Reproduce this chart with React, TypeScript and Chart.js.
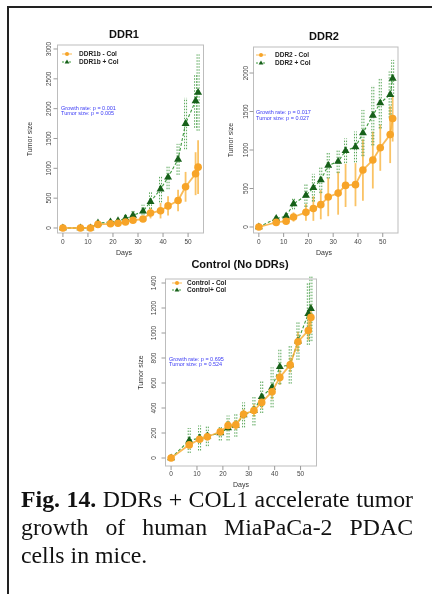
import React, { useEffect, useRef } from "react";
import { Chart, registerables } from "chart.js";

Chart.register(...registerables);

// ---------- data ----------
const DAYS = [0, 7, 11, 14, 19, 22, 25, 28, 32, 35, 39, 42, 46, 49, 53, 54];
const X_TICKS = [0, 10, 20, 30, 40, 50];

const DDR1_MINUS = [0, 0, 0, 60, 70, 80, 100, 130, 150, 250, 290, 370, 460, 690, 910, 1020];
const DDR1_MINUS_ERR = [5, 5, 5, 20, 25, 30, 35, 40, 50, 90, 130, 160, 180, 250, 360, 450];
const DDR1_PLUS = [0, 0, 0, 80, 100, 120, 160, 210, 280, 440, 650, 850, 1150, 1750, 2130, 2270];
const DDR1_PLUS_ERR = [5, 5, 5, 30, 35, 40, 60, 100, 110, 170, 220, 200, 260, 430, 450, 640];
const DDR1_Y_TICKS = [0, 500, 1000, 1500, 2000, 2500, 3000];

const DDR2_MINUS = [0, 60, 75, 130, 190, 240, 290, 390, 440, 540, 550, 740, 870, 1030, 1200, 1410];
const DDR2_MINUS_ERR = [10, 20, 25, 60, 110, 160, 190, 250, 280, 280, 280, 400, 370, 300, 370, 300];
const DDR2_PLUS = [0, 110, 140, 300, 410, 510, 610, 800, 850, 990, 1040, 1220, 1450, 1610, 1720, 1930];
const DDR2_PLUS_ERR = [10, 30, 40, 70, 150, 180, 170, 170, 150, 160, 200, 300, 390, 330, 300, 240];
const DDR2_Y_TICKS = [0, 500, 1000, 1500, 2000];

const CTRL_MINUS = [0, 105, 150, 170, 210, 260, 265, 350, 380, 445, 530, 645, 745, 930, 1020, 1125];
const CTRL_MINUS_ERR = [5, 20, 30, 30, 30, 40, 40, 40, 50, 50, 60, 60, 60, 80, 80, 100];
const CTRL_PLUS = [0, 140, 160, 175, 200, 240, 260, 345, 380, 490, 565, 730, 745, 935, 1155, 1195];
const CTRL_PLUS_ERR = [5, 100, 100, 80, 60, 100, 90, 100, 120, 130, 160, 140, 150, 150, 250, 260];
const CTRL_Y_TICKS = [0, 200, 400, 600, 800, 1000, 1200, 1400];

const DDR1_LABELS = ["DDR1b - Col", "DDR1b + Col"];
const DDR2_LABELS = ["DDR2 - Col", "DDR2 + Col"];
const CTRL_LABELS = ["Control - Col", "Control+ Col"];

const DDR1_P = ["Growth rate: p = 0.001", "Tumor size: p = 0.005"];
const DDR2_P = ["Growth rate: p = 0.017", "Tumor size: p = 0.027"];
const CTRL_P = ["Growth rate: p = 0.695", "Tumor size: p = 0.524"];

// ---------- styles ----------
const W = 432;
const H = 594;
const SANS = '"Liberation Sans", Arial, sans-serif';
const ORANGE = "#f7a428";
const ORANGE_LINE = "rgba(248,170,45,0.8)";
const GREEN = "#17601a";
const GREEN_LINE = "#3f9a3f";

interface Panel {
  title: string;
  titleX: number;
  titleY: number;
  area: { l: number; r: number; t: number; b: number };
  yMin: number;
  yMax: number;
  yTicks: number[];
  yTickX: number;
  yLabelX: number;
  xTickY: number;
  xLabelX: number;
  xLabelY: number;
  minus: number[];
  minusErr: number[];
  plus: number[];
  plusErr: number[];
  labels: string[];
  legend: { x1: number; x2: number; tx: number; y: number[] };
  pvals: string[];
  pX: number;
  pY: number[];
}

const PANELS: Panel[] = [
  {
    title: "DDR1", titleX: 124, titleY: 35,
    area: { l: 57.5, r: 203.5, t: 45, b: 233 },
    yMin: -84, yMax: 3067, yTicks: DDR1_Y_TICKS, yTickX: 49, yLabelX: 30,
    xTickY: 242, xLabelX: 124, xLabelY: 253,
    minus: DDR1_MINUS, minusErr: DDR1_MINUS_ERR, plus: DDR1_PLUS, plusErr: DDR1_PLUS_ERR,
    labels: DDR1_LABELS, legend: { x1: 62, x2: 72, tx: 79, y: [54, 62] },
    pvals: DDR1_P, pX: 61, pY: [108, 113.5],
  },
  {
    title: "DDR2", titleX: 324, titleY: 37,
    area: { l: 253.5, r: 398, t: 47, b: 233 },
    yMin: -78, yMax: 2338, yTicks: DDR2_Y_TICKS, yTickX: 246, yLabelX: 231,
    xTickY: 242, xLabelX: 324, xLabelY: 253,
    minus: DDR2_MINUS, minusErr: DDR2_MINUS_ERR, plus: DDR2_PLUS, plusErr: DDR2_PLUS_ERR,
    labels: DDR2_LABELS, legend: { x1: 256, x2: 266, tx: 275, y: [55, 63] },
    pvals: DDR2_P, pX: 256, pY: [112, 118],
  },
  {
    title: "Control (No DDRs)", titleX: 240, titleY: 265,
    area: { l: 165.5, r: 316.5, t: 279, b: 466 },
    yMin: -64, yMax: 1432, yTicks: CTRL_Y_TICKS, yTickX: 154, yLabelX: 141,
    xTickY: 474, xLabelX: 241, xLabelY: 485,
    minus: CTRL_MINUS, minusErr: CTRL_MINUS_ERR, plus: CTRL_PLUS, plusErr: CTRL_PLUS_ERR,
    labels: CTRL_LABELS, legend: { x1: 172, x2: 182, tx: 187, y: [283, 290] },
    pvals: CTRL_P, pX: 169, pY: [359, 364.5],
  },
];

function line(ctx: CanvasRenderingContext2D, x1: number, y1: number, x2: number, y2: number) {
  ctx.beginPath();
  ctx.moveTo(x1, y1);
  ctx.lineTo(x2, y2);
  ctx.stroke();
}

function triangle(ctx: CanvasRenderingContext2D, x: number, y: number, r: number) {
  ctx.beginPath();
  ctx.moveTo(x, y - r);
  ctx.lineTo(x + r * 0.95, y + r * 0.6);
  ctx.lineTo(x - r * 0.95, y + r * 0.6);
  ctx.closePath();
  ctx.fill();
}

function makePlugin(p: Panel) {
  return {
    id: "panelDecor",
    beforeDatasetsDraw(chart: any) {
      const ctx: CanvasRenderingContext2D = chart.ctx;
      const xs = chart.scales.x;
      const ys = chart.scales.y;
      ctx.save();
      // orange (solid) error bars
      ctx.strokeStyle = "rgba(248,175,50,0.75)";
      ctx.lineWidth = 1.8;
      ctx.setLineDash([]);
      DAYS.forEach((d, i) => {
        const x = xs.getPixelForValue(d);
        line(ctx, x, ys.getPixelForValue(p.minus[i] - p.minusErr[i]), x, ys.getPixelForValue(p.minus[i] + p.minusErr[i]));
      });
      // green (dotted) error bars
      ctx.strokeStyle = "rgba(60,150,60,0.85)";
      ctx.lineWidth = 1;
      ctx.setLineDash([1.5, 1.5]);
      DAYS.forEach((d, i) => {
        const x = xs.getPixelForValue(d);
        const y1 = ys.getPixelForValue(p.plus[i] - p.plusErr[i]);
        const y2 = ys.getPixelForValue(p.plus[i] + p.plusErr[i]);
        line(ctx, x - 1, y1, x - 1, y2);
        line(ctx, x + 1, y1, x + 1, y2);
      });
      ctx.restore();
    },
    afterDraw(chart: any) {
      const ctx: CanvasRenderingContext2D = chart.ctx;
      const xs = chart.scales.x;
      const ys = chart.scales.y;
      const { left, right, top, bottom } = chart.chartArea;
      ctx.save();
      ctx.setLineDash([]);
      // plot box
      ctx.strokeStyle = "#bdbdbd";
      ctx.lineWidth = 1;
      ctx.strokeRect(left, top, right - left, bottom - top);
      // ticks
      ctx.strokeStyle = "#9a9a9a";
      X_TICKS.forEach((v) => {
        const x = xs.getPixelForValue(v);
        line(ctx, x, bottom, x, bottom + 4);
      });
      p.yTicks.forEach((v) => {
        const y = ys.getPixelForValue(v);
        line(ctx, left - 4, y, left, y);
      });
      // tick labels
      ctx.fillStyle = "#444";
      ctx.font = `6.5px ${SANS}`;
      ctx.textAlign = "center";
      ctx.textBaseline = "middle";
      X_TICKS.forEach((v) => ctx.fillText(String(v), xs.getPixelForValue(v), p.xTickY));
      p.yTicks.forEach((v) => {
        ctx.save();
        ctx.translate(p.yTickX, ys.getPixelForValue(v));
        ctx.rotate(-Math.PI / 2);
        ctx.fillText(String(v), 0, 0);
        ctx.restore();
      });
      // axis titles
      ctx.fillStyle = "#333";
      ctx.font = `7px ${SANS}`;
      ctx.fillText("Days", p.xLabelX, p.xLabelY);
      ctx.save();
      ctx.translate(p.yLabelX, (top + bottom) / 2);
      ctx.rotate(-Math.PI / 2);
      ctx.fillText("Tumor size", 0, 0);
      ctx.restore();
      // main title
      ctx.fillStyle = "#111";
      ctx.font = `bold 11px ${SANS}`;
      ctx.fillText(p.title, p.titleX, p.titleY);
      // legend
      const lg = p.legend;
      [0, 1].forEach((i) => {
        const y = lg.y[i];
        const mx = (lg.x1 + lg.x2) / 2;
        ctx.lineWidth = 1;
        if (i === 0) {
          ctx.strokeStyle = ORANGE_LINE;
          ctx.setLineDash([]);
          line(ctx, lg.x1, y, lg.x2, y);
          ctx.fillStyle = ORANGE;
          ctx.beginPath();
          ctx.arc(mx, y, 2, 0, Math.PI * 2);
          ctx.fill();
        } else {
          ctx.strokeStyle = GREEN_LINE;
          ctx.setLineDash([2, 1.5]);
          line(ctx, lg.x1, y, lg.x2, y);
          ctx.setLineDash([]);
          ctx.fillStyle = GREEN;
          triangle(ctx, mx, y, 2.5);
        }
        ctx.fillStyle = "#222";
        ctx.font = `bold 6.5px ${SANS}`;
        ctx.textAlign = "left";
        ctx.fillText(p.labels[i], lg.tx, y);
      });
      // p values
      ctx.fillStyle = "#3b3bf5";
      ctx.font = `5.5px ${SANS}`;
      ctx.textAlign = "left";
      p.pvals.forEach((t, i) => ctx.fillText(t, p.pX, p.pY[i]));
      ctx.restore();
    },
  };
}

function build(canvas: HTMLCanvasElement, p: Panel) {
  const datasets: any[] = [
    {
      label: p.labels[0],
      data: DAYS.map((d, i) => ({ x: d, y: p.minus[i] })),
      borderColor: ORANGE_LINE,
      borderWidth: 1.8,
      pointStyle: "circle",
      pointRadius: 3.8,
      pointBackgroundColor: ORANGE,
      pointBorderColor: ORANGE,
      pointBorderWidth: 0,
      tension: 0,
      fill: false,
    },
    {
      label: p.labels[1],
      data: DAYS.map((d, i) => ({ x: d, y: p.plus[i] })),
      borderColor: GREEN_LINE,
      borderWidth: 1.1,
      borderDash: [3, 2],
      pointStyle: "triangle",
      pointRadius: 4.6,
      pointBackgroundColor: GREEN,
      pointBorderColor: GREEN,
      pointBorderWidth: 0,
      tension: 0,
      fill: false,
    },
  ];
  return new Chart(canvas, {
    type: "line",
    data: { datasets },
    options: {
      responsive: false,
      animation: false,
      events: [],
      layout: {
        padding: { left: p.area.l, top: p.area.t, right: W - p.area.r, bottom: H - p.area.b },
      },
      scales: {
        x: { type: "linear", display: false, min: -2.16, max: 56.16 },
        y: { type: "linear", display: false, min: p.yMin, max: p.yMax },
      },
      plugins: {
        legend: { display: false },
        tooltip: { enabled: false },
        title: { display: false },
      },
    },
    plugins: [makePlugin(p)],
  } as any);
}

function PanelCanvas({ panel }: { panel: Panel }) {
  const ref = useRef<HTMLCanvasElement | null>(null);
  useEffect(() => {
    if (!ref.current) return;
    const chart = build(ref.current, panel);
    return () => chart.destroy();
  }, [panel]);
  return (
    <canvas
      ref={ref}
      width={W}
      height={H}
      style={{ position: "absolute", left: 0, top: 0, width: W, height: H }}
    />
  );
}

export default function App() {
  const captionLine: React.CSSProperties = {
    textAlign: "justify",
    textAlignLast: "justify" as any,
    height: 28,
  };
  return (
    <div style={{ position: "absolute", left: 0, top: 0, width: W, height: H, overflow: "hidden", background: "#fff" }}>
      <div
        style={{
          position: "absolute",
          left: 7,
          top: 6,
          width: W - 7,
          height: H - 6,
          boxSizing: "border-box",
          borderTop: "2px solid #222",
          borderLeft: "2px solid #222",
        }}
      />
      {PANELS.map((p, i) => (
        <PanelCanvas key={i} panel={p} />
      ))}
      <div
        style={{
          position: "absolute",
          left: 21,
          top: 485,
          width: 392,
          fontFamily: '"Liberation Serif", "Times New Roman", serif',
          fontSize: 23.8,
          lineHeight: "28px",
          color: "#111",
        }}
      >
        <div style={captionLine}>
          <b>Fig. 14.</b> DDRs + COL1 accelerate tumor
        </div>
        <div style={captionLine}>growth of human MiaPaCa-2 PDAC</div>
        <div style={{ height: 28 }}>cells in mice.</div>
      </div>
    </div>
  );
}
